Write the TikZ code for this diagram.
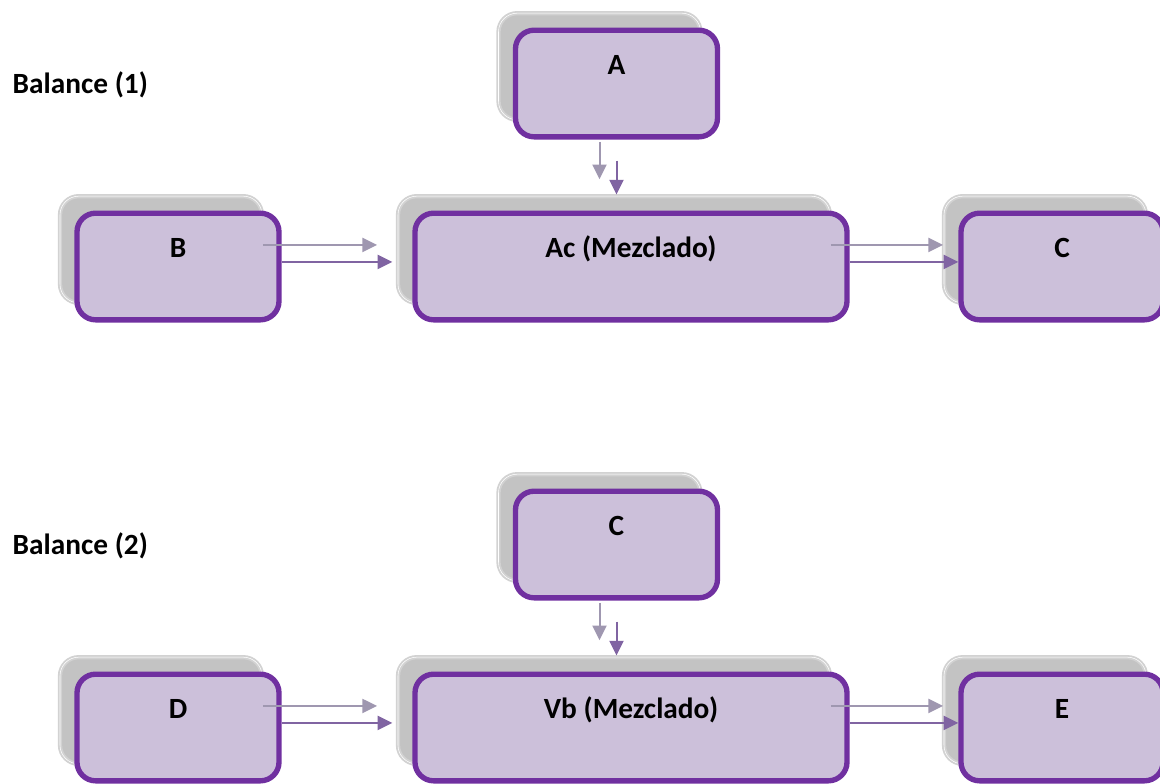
\documentclass[tikz,border=0pt]{standalone}
\usepackage{fontspec}
\setmainfont{Carlito}
\usepackage{xcolor}
\usetikzlibrary{positioning,arrows.meta}

\definecolor{box-fill}{HTML}{CCC0DA}
\definecolor{box-line}{HTML}{7030A0}
\definecolor{shd-fill}{HTML}{C3C3C3}
\definecolor{shd-line}{HTML}{D2D2D2}
\definecolor{arr-gray}{HTML}{9F97B0}
\definecolor{arr-purp}{HTML}{8064A2}

\begin{document}
\begin{tikzpicture}
[
x=0.75pt, y=-0.75pt,
font=\bfseries\fontsize{22}{26}\selectfont,
box-a/.style={rectangle, rounded corners=14pt, inner sep=0pt,
  minimum width=151.5pt, minimum height=80pt,
  text height=33.6pt, text depth=46.4pt},
box-m/.style={box-a, draw=box-line, fill=box-fill, line width=4pt},
box-s/.style={box-a, draw=shd-line, fill=shd-fill, line width=1.4pt,
  double=white, double distance=0.4pt},
wide/.style={minimum width=324pt},
arr-g/.style={draw=arr-gray, line width=1.5pt, -{Triangle[length=11pt,width=10.5pt]}},
arr-p/.style={draw=arr-purp, line width=1.5pt, -{Triangle[length=11pt,width=10.5pt]}},
text-a/.style={black, anchor=base west}
]
\useasboundingbox (0,0) rectangle (1160,783);

% Balance (1)
\node (bal-1)  [text-a]         at (8,93)                       {Balance (1)};
\node (sh-A)   [box-s]          at (599.5,66.5)                 {};
\node (sh-B)   [box-s]          at (161,249.5)                  {};
\node (sh-Ac)  [box-s, wide]    at (614,249.5)                  {};
\node (sh-C)   [box-s]          at (1045,249.5)                 {};
\node (bx-A)   [box-m]          at ([shift={(17,17)}]sh-A.center)  {A};
\node (bx-B)   [box-m]          at ([shift={(17,17)}]sh-B.center)  {B};
\node (bx-Ac)  [box-m, wide]    at ([shift={(17,17)}]sh-Ac.center) {Ac (Mezclado)};
\node (bx-C)   [box-m]          at ([shift={(17,17)}]sh-C.center)  {C};

\draw [arr-g, shorten <=15.75pt, shorten >=12pt] (sh-A.south) -- (sh-A.south |- sh-Ac.north);
\draw [arr-p, shorten <=15.75pt, shorten >=12pt] (bx-A.south) -- (bx-A.south |- bx-Ac.north);
\draw [arr-g, shorten >=15pt] ([yshift=3.4pt]sh-B.east) -- ([yshift=3.4pt]sh-Ac.west);
\draw [arr-p, shorten >=15pt] ([yshift=3.4pt]bx-B.east) -- ([yshift=3.4pt]bx-Ac.west);
\draw [arr-g] ([yshift=3.4pt]sh-Ac.east) -- ([yshift=3.4pt]sh-C.west);
\draw [arr-p] ([yshift=3.4pt]bx-Ac.east) -- ([yshift=3.4pt]bx-C.west);

% Balance (2)
\node (bal-2)  [text-a]         at (8,554)                      {Balance (2)};
\node (sh-C2)  [box-s]          at (599.5,527.5)                {};
\node (sh-D)   [box-s]          at (161,710.5)                  {};
\node (sh-Vb)  [box-s, wide]    at (614,710.5)                  {};
\node (sh-E)   [box-s]          at (1045,710.5)                 {};
\node (bx-C2)  [box-m]          at ([shift={(17,17)}]sh-C2.center) {C};
\node (bx-D)   [box-m]          at ([shift={(17,17)}]sh-D.center)  {D};
\node (bx-Vb)  [box-m, wide]    at ([shift={(17,17)}]sh-Vb.center) {Vb (Mezclado)};
\node (bx-E)   [box-m]          at ([shift={(17,17)}]sh-E.center)  {E};

\draw [arr-g, shorten <=15.75pt, shorten >=12pt] (sh-C2.south) -- (sh-C2.south |- sh-Vb.north);
\draw [arr-p, shorten <=15.75pt, shorten >=12pt] (bx-C2.south) -- (bx-C2.south |- bx-Vb.north);
\draw [arr-g, shorten >=15pt] ([yshift=3.4pt]sh-D.east) -- ([yshift=3.4pt]sh-Vb.west);
\draw [arr-p, shorten >=15pt] ([yshift=3.4pt]bx-D.east) -- ([yshift=3.4pt]bx-Vb.west);
\draw [arr-g] ([yshift=3.4pt]sh-Vb.east) -- ([yshift=3.4pt]sh-E.west);
\draw [arr-p] ([yshift=3.4pt]bx-Vb.east) -- ([yshift=3.4pt]bx-E.west);
\end{tikzpicture}
\end{document}
